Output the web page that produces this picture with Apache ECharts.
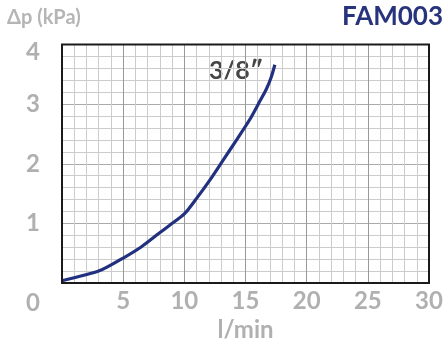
<!DOCTYPE html>
<html><head><meta charset="utf-8">
<script src="https://cdn.jsdelivr.net/npm/echarts@6/dist/echarts.min.js"></script>
<style>html,body{margin:0;padding:0;background:#fff}#c{width:446px;height:347px}</style>
</head><body><div id="c"></div>
<script>
var flow = [0, 3.1, 5.0, 6.5, 7.9, 8.8, 10.0, 11.0, 12.1, 13.2, 14.3, 15.4, 16.2, 16.7, 17.1, 17.4];
var dp   = [0.04, 0.21, 0.42, 0.61, 0.83, 0.97, 1.16, 1.42, 1.73, 2.07, 2.41, 2.76, 3.06, 3.25, 3.45, 3.66];
var seriesName = '3/8″';
var title = 'FAM003';
var yTitle = 'Δp (kPa)';
var xTitle = 'l/min';

var chart = echarts.init(document.getElementById('c'), null, {renderer: 'canvas'});
var FONT = 'Lato';
var gray = '#b0b0b0';
chart.setOption({
  animation: false,
  grid: {left: 62, right: 17, top: 44.5, bottom: 58, show: true, borderColor: '#1a1a1a', borderWidth: 2, backgroundColor: 'transparent', z: 10},
  xAxis: {
    type: 'value', min: 0, max: 30, interval: 5,
    axisLine: {show: false}, axisTick: {show: false},
    axisLabel: {color: gray, fontFamily: FONT, fontWeight: 'bold', fontSize: 24, margin: 6,
      formatter: function(v){ return v === 0 ? '' : String(v); }},
    splitLine: {show: true, lineStyle: {color: '#999999', width: 1}},
    minorTick: {show: false, splitNumber: 5},
    minorSplitLine: {show: true, lineStyle: {color: '#cccccc', width: 1}},
    name: xTitle, nameLocation: 'middle', nameGap: 32,
    nameTextStyle: {color: gray, fontFamily: FONT, fontWeight: 'bold', fontSize: 24}
  },
  yAxis: {
    type: 'value', min: 0, max: 4, interval: 1,
    axisLine: {show: false}, axisTick: {show: false},
    axisLabel: {color: gray, fontFamily: FONT, fontWeight: 'bold', fontSize: 24, margin: 22,
      formatter: function(v){ return v === 0 ? '' : (v === 4 ? '{t|4}' : String(v)); },
      rich: {t: {color: gray, fontFamily: FONT, fontWeight: 'bold', fontSize: 24, padding: [16, 0, 0, 0]}}},
    splitLine: {show: true, lineStyle: {color: '#aaaaaa', width: 1}},
    minorTick: {show: false, splitNumber: 5},
    minorSplitLine: {show: true, lineStyle: {color: '#cccccc', width: 1}}
  },
  graphic: [
    {type: 'text', left: 7, top: 8, style: {text: yTitle, fill: '#b5b5b5', font: 'bold 20px Lato'}},
    {type: 'text', right: 3, top: 4, style: {text: title, fill: '#27347c', font: 'bold 26px Lato'}},
    {type: 'text', left: 26, top: 291, style: {text: '0', fill: gray, font: 'bold 24px Lato'}},
    {type: 'text', left: 209, top: 58, style: {text: seriesName, fill: '#454545', font: 'bold 25px Lato'}}
  ],
  series: [{
    type: 'line', name: seriesName, data: flow.map(function(x, i){ return [x, dp[i]]; }),
    showSymbol: false, smooth: 0.25, lineStyle: {color: '#223080', width: 3.2}, z: 5
  }]
});
</script></body></html>
